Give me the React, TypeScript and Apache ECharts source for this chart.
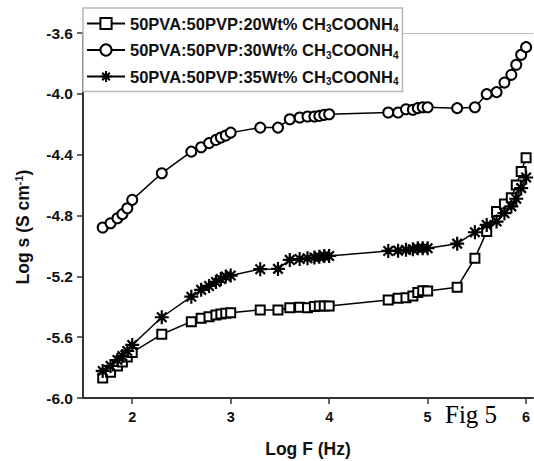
import React, { useEffect, useRef } from "react";
import * as echarts from "echarts";

const logF = [1.7, 1.78, 1.85, 1.9, 1.95, 2.0, 2.3, 2.6, 2.7, 2.78, 2.85, 2.9, 2.95, 3.0, 3.3, 3.48, 3.6, 3.7, 3.78, 3.85, 3.9, 3.95, 4.0, 4.6, 4.7, 4.78, 4.85, 4.9, 4.95, 5.0, 5.3, 5.48, 5.6, 5.7, 5.78, 5.85, 5.9, 5.95, 6.0];

const wt20 = [-5.868, -5.83, -5.79, -5.763, -5.73, -5.7, -5.581, -5.498, -5.476, -5.465, -5.454, -5.447, -5.443, -5.439, -5.421, -5.421, -5.406, -5.403, -5.406, -5.399, -5.395, -5.395, -5.395, -5.355, -5.344, -5.34, -5.329, -5.307, -5.294, -5.296, -5.272, -5.081, -4.906, -4.774, -4.724, -4.684, -4.6, -4.51, -4.42];

const wt30 = [-4.879, -4.851, -4.818, -4.791, -4.752, -4.697, -4.522, -4.38, -4.351, -4.324, -4.303, -4.287, -4.274, -4.255, -4.222, -4.222, -4.167, -4.156, -4.149, -4.149, -4.145, -4.138, -4.134, -4.123, -4.123, -4.101, -4.105, -4.094, -4.088, -4.088, -4.094, -4.088, -4.002, -3.989, -3.926, -3.875, -3.809, -3.743, -3.693];

const wt35 = [-5.822, -5.789, -5.75, -5.724, -5.691, -5.651, -5.469, -5.334, -5.289, -5.263, -5.237, -5.217, -5.201, -5.195, -5.153, -5.151, -5.092, -5.086, -5.081, -5.076, -5.072, -5.066, -5.066, -5.033, -5.031, -5.026, -5.022, -5.015, -5.015, -5.015, -4.985, -4.91, -4.862, -4.84, -4.785, -4.74, -4.69, -4.62, -4.55];

const seriesNames = ["20", "30", "35"];
const xTicks = [2, 3, 4, 5, 6];

const FONT = "'Liberation Sans', Arial, sans-serif";
const STAR = "path://M0,5L10,5M5,0L5,10M1.6,1.6L8.4,8.4M8.4,1.6L1.6,8.4";

function pairs(ys: number[]) {
  return logF.map((x, i) => [x, ys[i]]);
}

export default function App() {
  const ref = useRef<HTMLDivElement>(null);
  useEffect(() => {
    if (!ref.current) return;
    const chart = echarts.init(ref.current, null, { renderer: "svg" });
    const lineStyle = { color: "#000", width: 1.5 };
    chart.setOption({
      animation: false,
      backgroundColor: "#fff",
      grid: { left: 83, right: 1, top: 33, bottom: 63, containLabel: false, outerBoundsMode: "none" },
      legend: {
        orient: "vertical",
        left: 83,
        top: 8,
        width: 319,
        padding: [7, 4, 5, 3],
        itemWidth: 38,
        itemHeight: 14,
        itemGap: 8,
        backgroundColor: "#fff",
        borderColor: "#b8b8b8",
        borderWidth: 1.5,
        data: seriesNames,
        formatter: (name: string) =>
          `{n|50PVA:50PVP:${name}Wt% CH}{s|3}{n|COONH}{s|4}`,
        textStyle: {
          rich: {
            n: { fontFamily: FONT, fontWeight: "bold", fontSize: 16.5, color: "#111", lineHeight: 20 },
            s: { fontFamily: FONT, fontWeight: "bold", fontSize: 10, color: "#111", lineHeight: 6, verticalAlign: "bottom" },
          },
        },
      },
      xAxis: [
        {
          type: "value",
          min: 1.5,
          max: 6.07,
          position: "bottom",
          splitLine: { show: false },
          axisLine: { show: true, onZero: false, lineStyle: { color: "#333", width: 2 } },
          axisTick: { show: true, customValues: xTicks, length: 6, lineStyle: { color: "#333", width: 1.5 } },
          axisLabel: {
            customValues: xTicks,
            margin: 11,
            fontFamily: FONT,
            fontWeight: "bold",
            fontSize: 14.5,
            color: "#111",
            formatter: (v: number) => String(v),
          },
          name: "Log F (Hz)",
          nameLocation: "middle",
          nameGap: 42,
          nameTextStyle: { fontFamily: FONT, fontWeight: "bold", fontSize: 17.5, color: "#111" },
        },
        {
          type: "value",
          min: 1.5,
          max: 6.07,
          position: "top",
          splitLine: { show: false },
          axisLine: { show: true, onZero: false, lineStyle: { color: "#bbb", width: 1 } },
          axisTick: { show: false },
          axisLabel: { show: false },
        },
      ],
      yAxis: {
        type: "value",
        min: -6,
        max: -3.6,
        interval: 0.4,
        splitLine: { show: false },
        axisLine: { show: true, onZero: false, lineStyle: { color: "#333", width: 2 } },
        axisTick: { show: true, length: 6, lineStyle: { color: "#333", width: 1.5 } },
        axisLabel: {
          margin: 10,
          fontFamily: FONT,
          fontWeight: "bold",
          fontSize: 15.5,
          color: "#111",
          formatter: (v: number) => v.toFixed(1),
        },
      },
      graphic: [
        {
          type: "text",
          x: 23,
          y: 227,
          rotation: Math.PI / 2,
          style: {
            text: "{n|Log s (S cm}{sup|-1}{n|)}",
            align: "center",
            verticalAlign: "middle",
            rich: {
              n: { fontFamily: FONT, fontWeight: "bold", fontSize: 17.5, fill: "#111", lineHeight: 20 },
              sup: { fontFamily: FONT, fontWeight: "bold", fontSize: 11, fill: "#111", lineHeight: 6, verticalAlign: "top" },
            },
          },
        },
        {
          type: "text",
          left: 445,
          top: 402,
          style: {
            text: "Fig 5",
            fontFamily: "'Liberation Serif', 'Times New Roman', serif",
            fontSize: 25,
            fill: "#000",
          },
        },
      ],
      series: [
        {
          name: "20",
          type: "line",
          data: pairs(wt20),
          symbol: "emptyRect",
          symbolSize: 9,
          color: "#000",
          itemStyle: { color: "#000", borderWidth: 1.6 },
          lineStyle,
          z: 3,
        },
        {
          name: "30",
          type: "line",
          data: pairs(wt30),
          symbol: "emptyCircle",
          symbolSize: 10,
          color: "#000",
          itemStyle: { color: "#000", borderWidth: 1.6 },
          lineStyle,
          z: 3,
        },
        {
          name: "35",
          type: "line",
          data: pairs(wt35),
          symbol: STAR,
          symbolSize: 14,
          color: "#000",
          itemStyle: { color: "#000", borderColor: "#000", borderWidth: 2.2 },
          lineStyle,
          z: 4,
        },
      ],
    });
    return () => chart.dispose();
  }, []);
  return (
    <div
      ref={ref}
      style={{ position: "fixed", left: 0, top: 0, width: 534, height: 461, background: "#fff" }}
    />
  );
}
